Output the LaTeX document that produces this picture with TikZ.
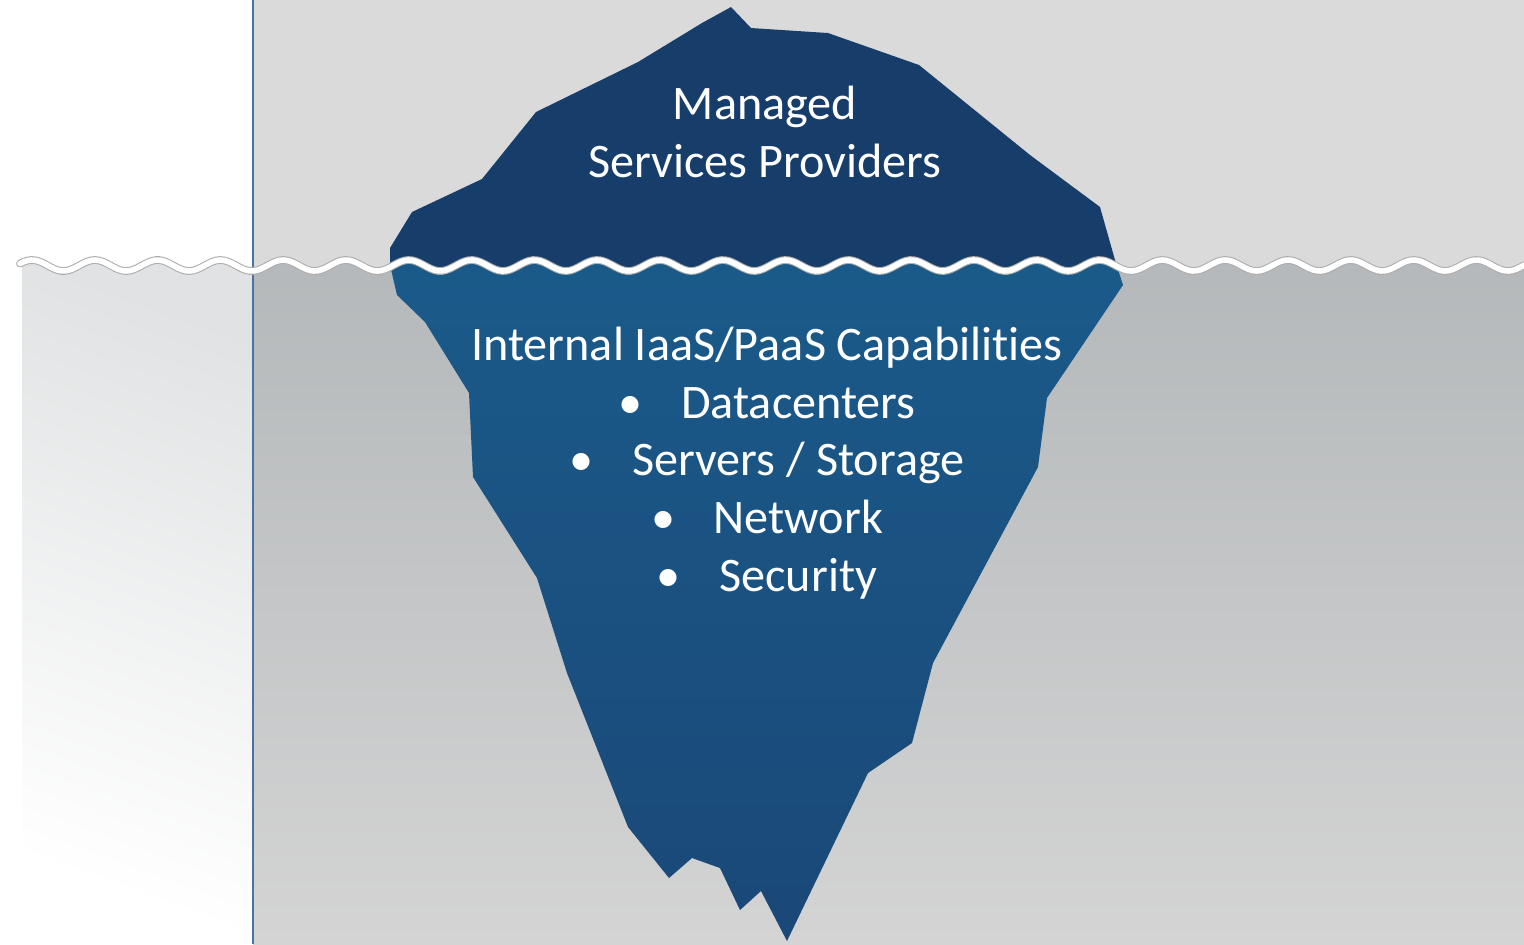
\documentclass[tikz,border=0pt]{standalone}
\usepackage{fontspec}
\setmainfont{Carlito}[Ligatures=NoCommon]
\definecolor{sky}{HTML}{DADADA}
\definecolor{seatop}{HTML}{B4B8BA}
\definecolor{seabottom}{HTML}{D4D4D4}
\definecolor{shoretop}{HTML}{E0E2E3}
\definecolor{bergtop}{HTML}{173E6A}
\definecolor{bergupper}{HTML}{1A6190}
\definecolor{berglower}{HTML}{1A4878}
\definecolor{rule}{HTML}{4A73A3}
\newcommand\bergoutline{(390,248)--(412,212)--(482,179)--(536,112)--(638,62)--(702,23)--(731,7)--(751,28)--(828,33)--(919,65)--(1030,155)--(1100,207)--(1115,260)--(1123,285)--(1047,398)--(1038,467)--(933,663)--(912,743)--(868,773)--(787,941)--(761,891)--(740,910)--(720,868)--(692,858)--(669,878)--(628,827)--(567,673)--(537,578)--(473,477)--(469,393)--(425,322)--(397,295)--(390,265)--cycle}
\newcommand\waterline{plot[domain=20:1524,samples=400] (\x,{265.5-5.5*cos((\x-32)*5.7325)})}
\tikzset{
  wave edge/.style={draw=black!32,line width=2.2pt,line cap=round},
  wave crest/.style={draw=white,line width=1.6pt,line cap=round},
  berg text/.style={text=white,align=center,font=\fontsize{13.7}{16.4}\selectfont}
}
\begin{document}
\begin{tikzpicture}[x=0.01cm,y=-0.01cm]
	\useasboundingbox (0,0) rectangle (1524,944);
	\fill[white] (0,0) rectangle (1524,944);
	\shade[top color=shoretop,bottom color=white,shading angle=-20] (22,250) rectangle (253,944);
	\shade[top color=seatop,bottom color=seabottom] (253,250) rectangle (1524,944);
	\shade[top color=bergupper,bottom color=berglower] \bergoutline;
	\begin{scope}
		\clip (0,0)--(20,0)--plot[domain=20:1524,samples=400] (\x,{265.5-5.5*cos((\x-32)*5.7325)})--(1524,0)--cycle;
		\fill[white] (0,0) rectangle (253,290);
		\fill[sky] (253,0) rectangle (1524,290);
		\fill[bergtop] \bergoutline;
	\end{scope}
	\draw[rule,line width=0.8pt] (253,0)--(253,944);
	\draw[wave edge] \waterline;
	\draw[wave crest] \waterline;
	\node[berg text] (msp) at (765,132) {Managed\\Services Providers};
	\node[berg text] (iaas) at (767,463) {Internal IaaS/PaaS Capabilities\\
		\textbullet\hspace{11pt}Datacenters\\
		\textbullet\hspace{11pt}Servers / Storage\\
		\textbullet\hspace{11pt}Network\\
		\textbullet\hspace{11pt}Security};
\end{tikzpicture}
\end{document}
